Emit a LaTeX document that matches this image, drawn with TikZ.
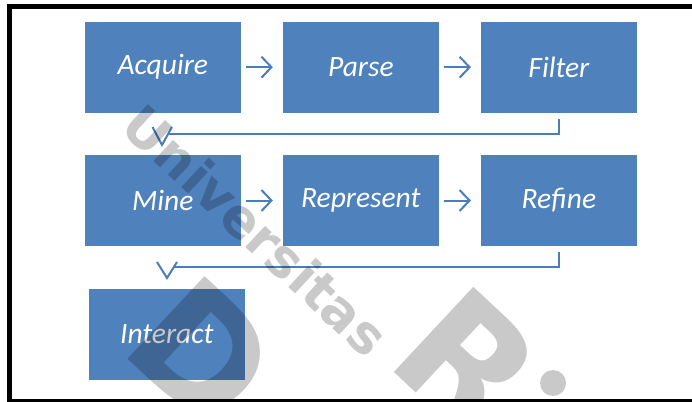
\documentclass[tikz,border=0pt]{standalone}
\usepackage{fontspec}
\setmainfont{Carlito}
\newfontfamily\markfont{DejaVu Sans}
\usetikzlibrary{arrows.meta,calc}
\definecolor{boxblue}{HTML}{4F81BD}
\definecolor{linkblue}{HTML}{4A7EBB}
\tikzset{
  stepbox/.style={fill=boxblue, text=white, inner sep=0pt,
    minimum width=155.5pt, minimum height=91pt,
    font=\itshape\fontsize{29.5}{32}\selectfont},
  flow/.style={draw=linkblue, line width=2pt,
    -{Straight Barb[length=10pt,width=21pt]},
    shorten <=5.5pt, shorten >=10pt},
  conn/.style={draw=linkblue, line width=2pt},
  wmark/.style={text=black, opacity=0.21, inner sep=0pt,
    font=\markfont\bfseries, rotate=-43}
}
\begin{document}
\begin{tikzpicture}[x=1pt,y=-1pt]
  \useasboundingbox (0,0) rectangle (692,401);
  \clip (0,0) rectangle (692,401);
  \fill[white] (0,0) rectangle (692,401);

  % outer frame
  \draw[line width=5pt] (9.7,6.5) rectangle (720,401);

  % process boxes
  \node[stepbox] (acq)    at (162.8,67.2)  {Acquire};
  \node[stepbox] (parse)  at (360.8,67.2)  {Parse};
  \node[stepbox] (filt)   at (558.9,67.2)  {Filter};
  \node[stepbox] (mine)   at (162.8,200.5) {Mine};
  \node[stepbox] (repr)   at (360.8,200.5) {Represent};
  \node[stepbox] (refine) at (558.9,200.5) {Refine};
  \node[stepbox] (inter)  at (166.8,334.5) {Interact};

  % straight links within a row
  \draw[flow] (acq) -- (parse);
  \draw[flow] (parse) -- (filt);
  \draw[flow] (mine) -- (repr);
  \draw[flow] (repr) -- (refine);

  % bent link: Filter -> Mine
  \coordinate (tipA)  at (162,145);
  \coordinate (joinA) at (168,134);
  \draw[conn] ([yshift=-6pt]filt.south) |- (joinA);
  \draw[conn] ($(tipA)+(-9.5,-18)$) -- (tipA) -- ($(tipA)+(10,-18)$);

  % bent link: Refine -> Interact
  \coordinate (tipB)  at (167,278);
  \coordinate (joinB) at (174,266.7);
  \draw[conn] ([yshift=-6pt]refine.south) |- (joinB);
  \draw[conn] ($(tipB)+(-10,-16)$) -- (tipB) -- ($(tipB)+(10,-16)$);

  % watermark
  \node[wmark, font=\markfont\bfseries\fontsize{53}{53}\selectfont] (wmA) at (256,230) {Universitas};
  \node[wmark, font=\markfont\bfseries\fontsize{155}{155}\selectfont] (wmB) at (203,352) {D};
  \node[wmark, font=\markfont\bfseries\fontsize{160}{160}\selectfont] (wmC) at (468,362) {R};
  \fill[black, opacity=0.21] (553,383) circle (13pt);
\end{tikzpicture}
\end{document}
